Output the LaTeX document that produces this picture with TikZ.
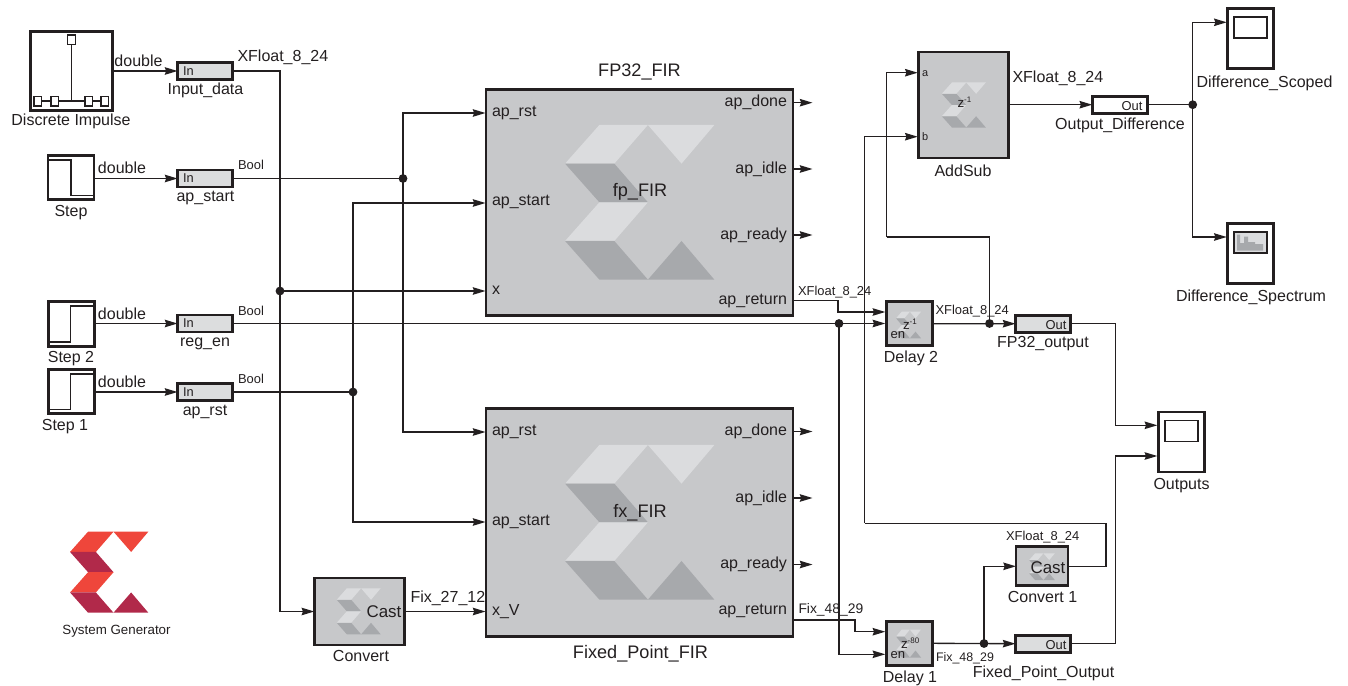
\documentclass[tikz,border=0pt]{standalone}
\usepackage{fontspec}
\setmainfont{Liberation Sans}
\usetikzlibrary{arrows.meta}
\definecolor{ink}{HTML}{231F20}
\definecolor{blockgray}{HTML}{C7C8CA}
\definecolor{logolight}{HTML}{DBDCDE}
\definecolor{logodark}{HTML}{A7A9AC}
\definecolor{portgray}{HTML}{DCDDDE}
\definecolor{redlight}{HTML}{EF463B}
\definecolor{reddark}{HTML}{B1294A}
\tikzset{
  wh/.style 2 args={minimum width=#1*0.75pt,minimum height=#2*0.75pt},
  blk/.style={draw=ink,line width=2.2pt,inner sep=0pt,outer sep=0pt},
  gblock/.style={blk,fill=blockgray},
  gate/.style={blk,fill=portgray,line width=2pt},
  wbox/.style={blk,fill=white},
  screen/.style={draw=ink,line width=1.1pt,fill=white,inner sep=0pt,outer sep=0pt},
  wire/.style={draw=ink,line width=1pt},
  arr/.style={wire,-{Stealth[length=9.5pt,width=5.6pt,inset=1pt]}},
  dot/.style={circle,fill=ink,draw=none,minimum size=6.6pt,inner sep=0pt,outer sep=0pt},
  lab/.style={text=ink,font=\fontsize{12pt}{13pt}\selectfont,inner sep=0pt,outer sep=0pt,yshift=-0.7pt},
  big/.style={lab,font=\fontsize{13.6pt}{15pt}\selectfont},
  cast/.style={lab,font=\fontsize{12.7pt}{14pt}\selectfont},
  small/.style={text=ink,font=\fontsize{9.7pt}{11pt}\selectfont,inner sep=0pt,outer sep=0pt,yshift=-0.7pt},
  tiny/.style={text=ink,font=\fontsize{9.6pt}{11pt}\selectfont,inner sep=0pt,outer sep=0pt},
  thin wire/.style={draw=ink,line width=0.85pt},
}
\newcommand\xlogo[6]{%
 \begin{scope}[shift={(#1-#3/2,#2-#4/2)},x=#3*0.75pt,y=-#4*0.75pt]
  \fill[#5] (.23,0)--(.555,0)--(.33,.25)--(0,.25)--cycle;
  \fill[#5] (.555,0)--(1,0)--(.78,.25)--cycle;
  \fill[#6] (0,.25)--(.33,.25)--(.555,.5)--(.23,.5)--cycle;
  \fill[#5] (.23,.5)--(.555,.5)--(.33,.75)--(0,.75)--cycle;
  \fill[#6] (0,.75)--(.33,.75)--(.555,1)--(.23,1)--cycle;
  \fill[#6] (.555,1)--(1,1)--(.78,.75)--cycle;
 \end{scope}}
\begin{document}
\begin{tikzpicture}[x=0.75pt,y=-0.75pt]
\useasboundingbox (0,0) rectangle (1348,685);
% --- sources
\node[wbox,wh={82}{79}] (imp) at (71.5,71) {};
\node[wbox,wh={46}{44}] (step) at (71,177.5) {};
\node[wbox,wh={46}{45}] (step2) at (71.5,324) {};
\node[wbox,wh={46}{44}] (step1) at (71.5,391.5) {};
% impulse icon
\begin{scope}[thin wire]
 \draw (71.7,44.3) -- (71.7,101) (41.7,101) -- (51,101) (58.7,101) -- (85,101) (92.7,101) -- (101,101);
 \draw[fill=white] (67.7,35) rectangle (75.7,44.3);
 \draw (34,96.7) rectangle (41.7,106) (51,96.7) rectangle (58.7,106) (85,96.7) rectangle (92.7,106) (101,96.7) rectangle (108.7,106);
 \draw (49,160) -- (71,160) -- (71,195.7) -- (93.3,195.7);
 \draw (49,342) -- (70.7,342) -- (70.7,306) -- (93.3,306);
 \draw (49,409.3) -- (70.7,409.3) -- (70.7,374) -- (93.3,374);
\end{scope}
% --- gateways in
\node[gate,wh={55}{17}] (inData) at (205,71) {};
\node[gate,wh={55}{17}] (inStart) at (205,178.5) {};
\node[gate,wh={55}{17}] (inEn) at (205,323.5) {};
\node[gate,wh={55}{17}] (inRst) at (205,392) {};
\node[tiny,anchor=mid west] (tIn1) at (183,71.5) {In};
\node[tiny,anchor=mid west] (tIn2) at (183,179) {In};
\node[tiny,anchor=mid west] (tIn3) at (183,324) {In};
\node[tiny,anchor=mid west] (tIn4) at (183,392.5) {In};
% --- FIR blocks
\node[gblock,wh={307}{226}] (fp) at (639.5,202.5) {};
\node[gblock,wh={307}{228}] (fx) at (639.5,522.5) {};
\xlogo{639.7}{202.3}{149.3}{154.7}{logolight}{logodark}
\xlogo{639.7}{522.3}{149.3}{154.7}{logolight}{logodark}
% --- other gray blocks
\node[gblock,wh={90}{106}] (addsub) at (963.7,105) {};
\node[gblock,wh={90}{67}] (conv) at (359.3,611.5) {};
\node[gblock,wh={46}{44}] (d2) at (909.3,323.8) {};
\node[gblock,wh={46}{44}] (d1) at (909.3,643.3) {};
\node[gblock,wh={52}{39}] (conv1) at (1042,566.3) {};
\xlogo{963.8}{105}{44}{45}{logolight}{logodark}
\xlogo{358.7}{611.3}{44}{46}{logolight}{logodark}
\xlogo{908.5}{325}{25}{26.6}{logolight}{logodark}
\xlogo{908.5}{643.5}{25}{28}{logolight}{logodark}
\xlogo{1042}{566.7}{25.7}{26.7}{logolight}{logodark}
% --- gateways out
\node[wbox,line width=2pt,wh={55}{17}] (outDiff) at (1119.7,104.7) {};
\node[gate,wh={55}{17}] (outFP) at (1043,323.7) {};
\node[gate,wh={55}{17}] (outFX) at (1043,643.7) {};
% --- scopes
\node[wbox,wh={46}{60}] (scoped) at (1250.5,38.5) {};
\node[wbox,wh={46}{60}] (spec) at (1250.5,253.5) {};
\node[wbox,wh={46}{60}] (outs) at (1181.3,442) {};
\node[screen,wh={33}{21}] (scr1) at (1250.6,27.3) {};
\node[screen,wh={33}{21},fill=logolight] (scr2) at (1250.5,242.5) {};
\node[screen,wh={33}{20.5}] (scr3) at (1181.3,431) {};
\fill[logodark] (1237,234.5) -- (1240,234.5) -- (1240,243) -- (1244,243) -- (1244,236.5) -- (1248,236.5) -- (1248,242) -- (1255,242) -- (1255,244) -- (1263,244) -- (1263,250.5) -- (1237,250.5) -- cycle;
% --- junctions
\node[dot] (j1) at (280,291) {};
\node[dot] (j2) at (403,178.5) {};
\node[dot] (j3) at (353,392) {};
\node[dot] (j4) at (839,323.5) {};
\node[dot] (j5) at (989.5,323.5) {};
\node[dot] (j6) at (984,643.5) {};
\node[dot] (j7) at (1192.7,104.7) {};
% --- ports
\coordinate (pFpRst) at (485.5,113);
\coordinate (pFpStart) at (485.5,203);
\coordinate (pFpX) at (485.5,291);
\coordinate (pFxRst) at (485.5,432);
\coordinate (pFxStart) at (485.5,522);
\coordinate (pFxV) at (485.5,611.5);
\coordinate (pA) at (917.7,72.7);
\coordinate (pB) at (917.7,136.7);
\coordinate (pD2a) at (885.3,312);
\coordinate (pD2b) at (885.3,323.5);
\coordinate (pD1a) at (885.3,631.7);
\coordinate (pD1b) at (885.3,654.3);
\coordinate (pScoped) at (1226.7,22.3);
\coordinate (pSpec) at (1226.7,237);
\coordinate (pO1) at (1157.3,425.3);
\coordinate (pO2) at (1157.3,456);
\coordinate (oFpRet) at (794,300.7);
\coordinate (oFxRet) at (794,620);
\coordinate (eDone) at (812.5,102.7);
\coordinate (eIdle) at (812.5,169);
\coordinate (eReady) at (812.5,235);
\coordinate (fDone) at (812.5,431.5);
\coordinate (fIdle) at (812.5,498);
\coordinate (fReady) at (812.5,564.5);
\coordinate (bendA) at (886.7,237);
\coordinate (bendB) at (864.7,523.3);
\coordinate (bendR) at (1106,523.3);
% --- wires
\draw[arr] (imp.east) -- (inData.west);
\draw[arr] (step.east |- inStart) -- (inStart.west);
\draw[arr] (step2.east |- inEn) -- (inEn.west);
\draw[arr] (step1.east |- inRst) -- (inRst.west);
\draw[wire] (inData.east) -| (j1.center);
\draw[arr] (j1.center) |- (pFxV -| conv.west);
\draw[arr] (j1.center) -- (pFpX);
\draw[wire] (inStart.east) -- (j2.center);
\draw[arr] (j2.center) |- (pFpRst);
\draw[arr] (j2.center) |- (pFxRst);
\draw[wire] (inRst.east) -- (j3.center);
\draw[arr] (j3.center) |- (pFpStart);
\draw[arr] (j3.center) |- (pFxStart);
\draw[wire] (inEn.east) -- (j4.center);
\draw[arr] (j4.center) -- (pD2b);
\draw[arr] (j4.center) |- (pD1b);
\draw[arr] (conv.east |- pFxV) -- (pFxV);
\draw[arr] (oFpRet) -- ++(44,0) |- (pD2a);
\draw[arr] (oFxRet) -- ++(61,0) |- (pD1a);
\draw[arr] (d2.east) -- (outFP.west);
\draw[arr] (d1.east) -- (outFX.west);
\draw[arr] (j6.center) |- (conv1.west);
\draw[wire] (j5.center) |- (bendA);
\draw[arr] (bendA) |- (pA);
\draw[wire] (conv1.east) -| (bendR) -- (bendB);
\draw[arr] (bendB) |- (pB);
\draw[arr] (addsub.east |- outDiff) -- (outDiff.west);
\draw[wire] (outDiff.east) -- (j7.center);
\draw[arr] (j7.center) |- (pScoped);
\draw[arr] (j7.center) |- (pSpec);
\draw[arr] (outFP.east) -| ++(45,0) |- (pO1);
\draw[arr] (outFX.east) -| ++(45,0) |- (pO2);
\foreach \a/\b in {eDone/fp,eIdle/fp,eReady/fp,fDone/fx,fIdle/fx,fReady/fx}
  \draw[arr] (\a -| \b.east) -- (\a);
% --- texts
\node[lab] (tImp) at (71,120.5) {Discrete Impulse};
\node[lab] (tStep) at (71,211.5) {Step};
\node[lab] (tStep2) at (71,357.5) {Step 2};
\node[lab] (tStep1) at (65,426) {Step 1};
\node[lab] at (138.5,60) {double};
\node[lab] at (122,167) {double};
\node[lab] at (122,313) {double};
\node[lab] at (122,381) {double};
\node[lab] at (205.5,89.5) {Input\_data};
\node[lab] at (205.5,197) {ap\_start};
\node[lab] at (205,343) {reg\_en};
\node[lab] at (205,411) {ap\_rst};
\node[lab,anchor=mid west] at (237.5,57.5) {XFloat\_8\_24};
\node[small,anchor=mid west] at (238,165.5) {Bool};
\node[small,anchor=mid west] at (238,311.5) {Bool};
\node[small,anchor=mid west] at (238,379.5) {Bool};
% FP block
\node[big] at (639.5,71) {FP32\_FIR};
\node[big] at (640,191) {fp\_FIR};
\node[lab,anchor=mid west] at (492,112) {ap\_rst};
\node[lab,anchor=mid west] at (492,201) {ap\_start};
\node[lab,anchor=mid west] at (492,290) {x};
\node[lab,anchor=mid east] at (787,102) {ap\_done};
\node[lab,anchor=mid east] at (787,169) {ap\_idle};
\node[lab,anchor=mid east] at (787,235) {ap\_ready};
\node[lab,anchor=mid east] at (787,300.5) {ap\_return};
% FX block
\node[big] at (640.5,653) {Fixed\_Point\_FIR};
\node[big] at (640,511.5) {fx\_FIR};
\node[lab,anchor=mid west] at (492,431) {ap\_rst};
\node[lab,anchor=mid west] at (492,521) {ap\_start};
\node[lab,anchor=mid west] at (492,611) {x\_V};
\node[lab,anchor=mid east] at (787,431) {ap\_done};
\node[lab,anchor=mid east] at (787,498) {ap\_idle};
\node[lab,anchor=mid east] at (787,564) {ap\_ready};
\node[lab,anchor=mid east] at (787,610) {ap\_return};
% Convert
\node[cast] at (384,611) {Cast};
\node[lab] at (361,655.5) {Convert};
\node[lab,anchor=mid west] at (410.5,598.5) {Fix\_27\_12};
% logo
\xlogo{109.2}{572.2}{78.3}{81}{redlight}{reddark}
\node[small,font=\fontsize{10pt}{11pt}\selectfont] (tSys) at (116.5,630.5) {System Generator};
% FP out label
\node[small,anchor=mid west] at (798,291) {XFloat\_8\_24};
\node[small,font=\fontsize{10.4pt}{12pt}\selectfont,anchor=mid west] at (798.5,609) {Fix\_48\_29};
% Delay 2
\node[small,anchor=mid west] at (935.5,310.5) {XFloat\_8\_24};
\node[small,font=\fontsize{9.8pt}{11pt}\selectfont,anchor=mid west] at (890.5,334.5) {en};
\node[small,font=\fontsize{10pt}{11pt}\selectfont,anchor=mid west] at (903,325) {z$^{\mbox{\fontsize{6pt}{7pt}\selectfont -1}}$};
\node[lab] at (911,357) {Delay 2};
\node[lab] at (1043,342.5) {FP32\_output};
\node[small,anchor=east] at (1066.5,324) {Out};
% Delay 1
\node[small,font=\fontsize{9.8pt}{11pt}\selectfont,anchor=mid west] at (890.5,654.5) {en};
\node[small,font=\fontsize{10pt}{11pt}\selectfont,anchor=mid west] at (901,644) {z$^{\mbox{\fontsize{6pt}{7pt}\selectfont -80}}$};
\node[lab] at (910,677) {Delay 1};
\node[small,font=\fontsize{9.3pt}{11pt}\selectfont,anchor=mid west] at (936,657) {Fix\_48\_29};
\node[lab] at (1043.5,672.5) {Fixed\_Point\_Output};
\node[small,anchor=east] at (1066.5,644) {Out};
% Convert 1
\node[small,anchor=mid west] at (1006,536) {XFloat\_8\_24};
\node[cast] at (1048,566.5) {Cast};
\node[lab] at (1042.5,596.5) {Convert 1};
% AddSub
\node[small,font=\fontsize{8.2pt}{10pt}\selectfont,anchor=mid west] at (922,72.5) {a};
\node[small,font=\fontsize{8.2pt}{10pt}\selectfont,anchor=mid west] at (922,136) {b};
\node[small,font=\fontsize{10pt}{11pt}\selectfont,anchor=mid west] at (957.5,103) {z$^{\mbox{\fontsize{6pt}{7pt}\selectfont -1}}$};
\node[lab] at (963,170) {AddSub};
\node[lab,anchor=mid west] at (1012.5,78) {XFloat\_8\_24};
\node[lab] at (1120,124) {Output\_Difference};
\node[small,anchor=east] at (1142.5,105) {Out};
% scopes
\node[lab] at (1264.5,82) {Difference\_Scoped};
\node[lab] at (1251,296.5) {Difference\_Spectrum};
\node[lab] at (1181.5,484.5) {Outputs};
\end{tikzpicture}
\end{document}
